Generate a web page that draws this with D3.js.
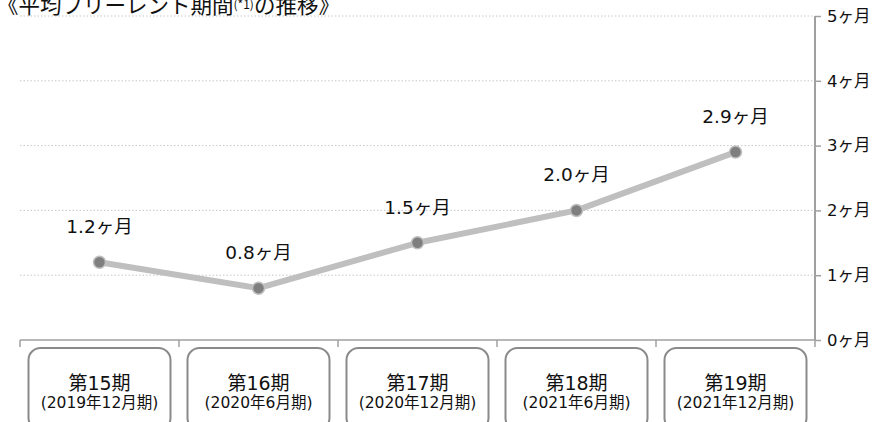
<!DOCTYPE html>
<html>
<head>
<meta charset="utf-8">
<script src="https://cdn.jsdelivr.net/npm/d3@7"></script>
<style>
  body { margin: 0; background: #fff; }
  text { font-family: "DejaVu Sans", "Noto Sans CJK JP", sans-serif; fill: #111; }
</style>
</head>
<body>
<div id="chart"></div>
<script>
// data
var periods = ["第15期", "第16期", "第17期", "第18期", "第19期"];
var subLabels = ["(2019年12月期)", "(2020年6月期)", "(2020年12月期)", "(2021年6月期)", "(2021年12月期)"];
var months = [1.2, 0.8, 1.5, 2.0, 2.9];
var yTicks = [0, 1, 2, 3, 4, 5];

var svg = d3.select("#chart").append("svg");
svg.attr("width", 886).attr("height", 422);
var margin = { top: 16, left: 20, bottom: 82, right: 71 };
var width = +svg.attr("width");
var height = +svg.attr("height");

var x = d3.scaleBand()
  .domain(periods)
  .range([margin.left, width - margin.right]);

var y = d3.scaleLinear()
  .domain([0, 5])
  .range([height - margin.bottom, margin.top]);

// grid
svg.append("g")
  .selectAll("line")
  .data(yTicks.filter((d) => d > 0))
  .enter()
  .append("line")
  .attr("x1", margin.left)
  .attr("x2", width - margin.right)
  .attr("y1", (d) => y(d))
  .attr("y2", (d) => y(d))
  .attr("stroke", "#c8c8c8")
  .attr("stroke-width", 1)
  .attr("stroke-dasharray", "1.5,2");

// right axis
var yAxis = svg.append("g")
  .attr("transform", `translate(${width - margin.right},0)`)
  .call(d3.axisRight(y).tickValues(yTicks).tickSize(6).tickPadding(6).tickFormat((d) => d + "ヶ月"));
yAxis.select(".domain").attr("stroke", "#a0a0a0").attr("stroke-width", 2).attr("d", `M0,${y(5)}V${y(0)}`);
yAxis.selectAll(".tick line").attr("stroke", "#a0a0a0").attr("stroke-width", 1.5);
yAxis.selectAll(".tick text").style("font-size", "16.5px").attr("fill", "#111");

// bottom axis
var xAxis = svg.append("g")
  .attr("transform", `translate(0,${y(0)})`)
  .call(d3.axisBottom(x).tickSize(0).tickFormat(""));
xAxis.select(".domain").attr("stroke", "#a0a0a0").attr("stroke-width", 1.5)
  .attr("d", `M${margin.left},0H${width - margin.right}`);
var bounds = periods.map((p) => x(p)).concat([x.range()[1]]);
xAxis.selectAll(".sep")
  .data(bounds)
  .enter()
  .append("line")
  .attr("class", "sep")
  .attr("x1", (d) => d)
  .attr("x2", (d) => d)
  .attr("y1", 0)
  .attr("y2", 7)
  .attr("stroke", "#a0a0a0")
  .attr("stroke-width", 1.5);

// category boxes
var boxes = svg.append("g")
  .selectAll("g")
  .data(periods)
  .enter()
  .append("g")
  .attr("transform", (d) => `translate(${x(d) + x.bandwidth() / 2},${y(0)})`);
boxes.append("rect")
  .attr("x", -71)
  .attr("width", 142)
  .attr("y", 8)
  .attr("height", 82)
  .attr("rx", 12)
  .attr("fill", "#fff")
  .attr("stroke", "#8a8a8a")
  .attr("stroke-width", 2);
boxes.append("text")
  .attr("text-anchor", "middle")
  .attr("y", 50)
  .style("font-size", "19px")
  .text((d) => d);
boxes.append("text")
  .attr("text-anchor", "middle")
  .attr("y", 68)
  .style("font-size", "15.5px")
  .text((d, i) => subLabels[i]);

// line
var pts = periods.map((p, i) => [x(p) + x.bandwidth() / 2, y(months[i])]);
svg.append("path")
  .attr("d", d3.line()(pts))
  .attr("fill", "none")
  .attr("stroke", "#bfbfbf")
  .attr("stroke-width", 6)
  .attr("stroke-linejoin", "round");

svg.append("g")
  .selectAll("circle")
  .data(months)
  .enter()
  .append("circle")
  .attr("cx", (d, i) => pts[i][0])
  .attr("cy", (d) => y(d))
  .attr("r", 6)
  .attr("fill", "#7f7f7f")
  .attr("stroke", "#bfbfbf")
  .attr("stroke-width", 1.5);

svg.append("g")
  .selectAll("text")
  .data(months)
  .enter()
  .append("text")
  .attr("text-anchor", "middle")
  .attr("x", (d, i) => pts[i][0])
  .attr("y", (d) => y(d) - 29)
  .style("font-size", "18.5px")
  .text((d) => d.toFixed(1) + "ヶ月");

// title
var title = svg.append("text")
  .attr("x", -3)
  .attr("y", 13)
  .style("font-size", "21.5px")
  .style("font-family", "'Noto Sans CJK JP', sans-serif");
title.append("tspan").text("《平均フリーレント期間");
title.append("tspan").attr("dy", -4).style("font-size", "12px").text("(*1)");
title.append("tspan").attr("dy", 4).text("の推移》");
</script>
</body>
</html>
